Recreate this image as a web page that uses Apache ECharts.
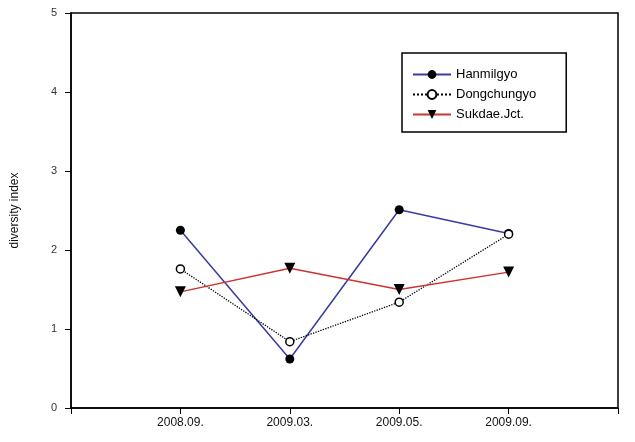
<!DOCTYPE html>
<html>
<head>
<meta charset="utf-8">
<script src="https://cdn.jsdelivr.net/npm/echarts@6/dist/echarts.min.js"></script>
<style>
  html, body { margin: 0; padding: 0; background: #fff; }
  #main { width: 635px; height: 442px; }
</style>
</head>
<body>
<div id="main"></div>
<script>
// 采样时间
const categories = ["2008.09.", "2009.03.", "2009.05.", "2009.09."];
// 多样性指数
const hanmilgyo = [2.25, 0.62, 2.51, 2.21];
const dongchungyo = [1.76, 0.84, 1.34, 2.2];
const sukdae = [1.47, 1.77, 1.5, 1.72];
const yTicks = [0, 1, 2, 3, 4, 5];

// 两端留空，使点落在 1..4 的位置
const axisData = [""].concat(categories, [""]);
const pad = (arr) => [null].concat(arr, [null]);

const chart = echarts.init(document.getElementById("main"));
chart.setOption({
  animation: false,
  textStyle: { fontFamily: "Liberation Sans, Arial, sans-serif" },
  grid: {
    left: 71,
    right: 17,
    top: 13,
    bottom: 34,
    show: true,
    borderColor: "#000",
    borderWidth: 1.5,
  },
  legend: {
    orient: "vertical",
    left: 402,
    top: 53,
    padding: [15, 30, 11, 10],
    itemGap: 7,
    itemWidth: 38,
    itemHeight: 11,
    borderColor: "#000",
    borderWidth: 1.5,
    textStyle: { color: "#000", fontSize: 13 },
    data: ["Hanmilgyo", "Dongchungyo", "Sukdae.Jct."],
  },
  xAxis: {
    type: "category",
    data: axisData,
    boundaryGap: false,
    axisLine: { lineStyle: { color: "#000", width: 1.5 } },
    axisTick: { show: true, inside: false, length: 6, lineStyle: { color: "#000" } },
    axisLabel: { color: "#111", fontSize: 12, margin: 9 },
    splitLine: { show: false },
  },
  yAxis: {
    type: "value",
    min: yTicks[0],
    max: yTicks[yTicks.length - 1],
    interval: 1,
    name: "diversity index",
    nameLocation: "middle",
    nameGap: 50,
    nameTextStyle: { color: "#111", fontSize: 12 },
    axisLine: { show: true, lineStyle: { color: "#000", width: 1.5 } },
    axisTick: { show: true, length: 6, lineStyle: { color: "#000" } },
    axisLabel: { color: "#333", fontSize: 11, margin: 14 },
    splitLine: { show: false },
  },
  series: [
    {
      name: "Hanmilgyo",
      type: "line",
      data: pad(hanmilgyo),
      symbol: "circle",
      symbolSize: 9,
      itemStyle: { color: "#000" },
      lineStyle: { color: "#3a3aa0", width: 1.5 },
    },
    {
      name: "Dongchungyo",
      type: "line",
      data: pad(dongchungyo),
      symbol: "circle",
      symbolSize: 8,
      itemStyle: { color: "#fff", borderColor: "#000", borderWidth: 1.5 },
      lineStyle: { color: "#000", width: 1.3, type: "dotted" },
    },
    {
      name: "Sukdae.Jct.",
      type: "line",
      data: pad(sukdae),
      symbol: "triangle",
      symbolRotate: 180,
      symbolSize: 11,
      itemStyle: { color: "#000" },
      lineStyle: { color: "#cc3333", width: 1.5 },
    },
  ],
});
</script>
</body>
</html>
